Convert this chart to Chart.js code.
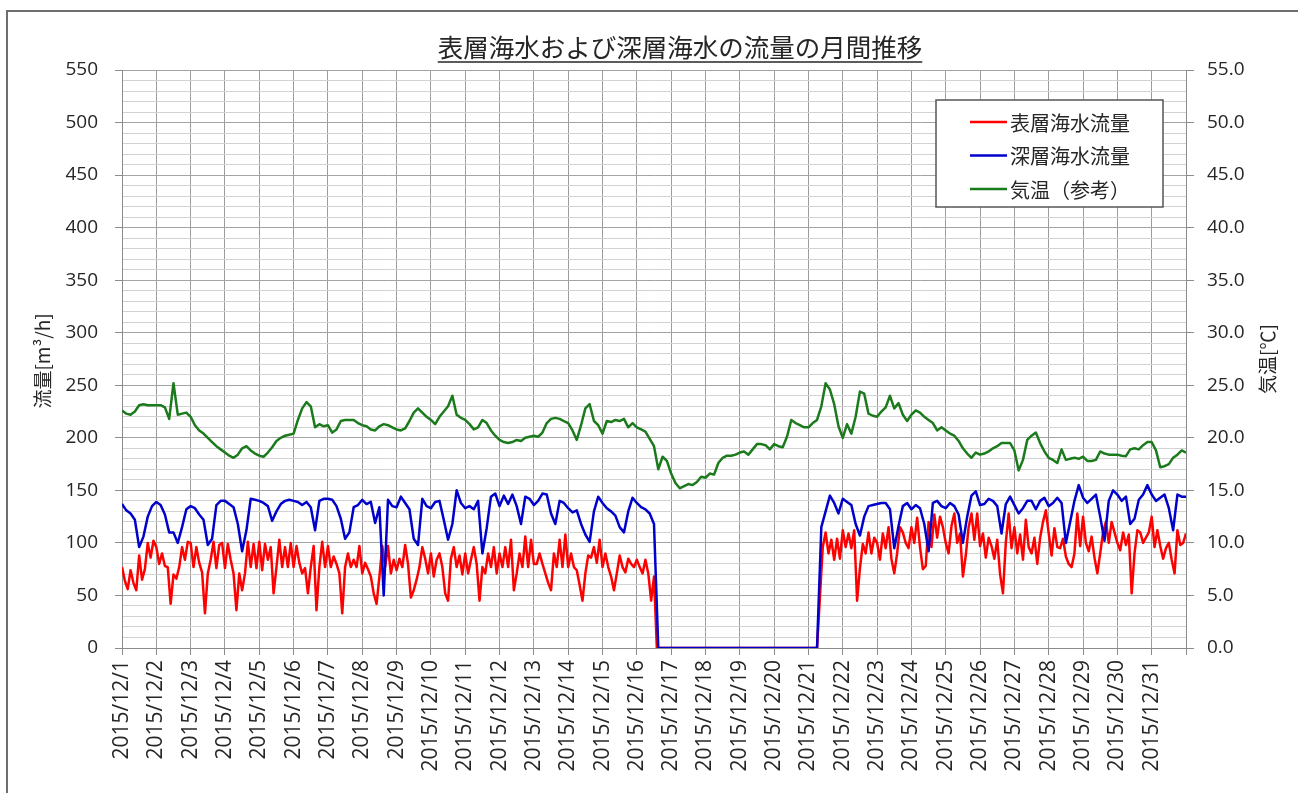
<!DOCTYPE html>
<html>
<head>
<meta charset="utf-8">
<script src="https://cdn.jsdelivr.net/npm/chart.js@4.4.1/dist/chart.umd.min.js"></script>
<style>
  html, body { margin: 0; padding: 0; background: #ffffff; }
  #wrap { width: 1298px; height: 793px; position: relative; }
  canvas { display: block; }
</style>
</head>
<body>
<div id="wrap"><canvas id="flowChart" width="1298" height="793"></canvas></div>
<script>
// Tick labels for each day of December 2015
const dayLabels = [
  '2015/12/1','2015/12/2','2015/12/3','2015/12/4','2015/12/5','2015/12/6','2015/12/7','2015/12/8',
  '2015/12/9','2015/12/10','2015/12/11','2015/12/12','2015/12/13','2015/12/14','2015/12/15','2015/12/16',
  '2015/12/17','2015/12/18','2015/12/19','2015/12/20','2015/12/21','2015/12/22','2015/12/23','2015/12/24',
  '2015/12/25','2015/12/26','2015/12/27','2015/12/28','2015/12/29','2015/12/30','2015/12/31'
];

// Sampling interval (hours) of each series
const surfaceStepHours = 2;
const deepStepHours = 3;
const tempStepHours = 3;

// Surface seawater flow [m3/h], every 2 hours (one row per day)
const surfaceFlow = [
  77, 64, 56, 74, 62, 55, 88, 65, 75, 100, 86, 102,
  96, 80, 90, 78, 77, 42, 70, 66, 77, 96, 84, 101,
  100, 77, 96, 81, 72, 33, 71, 84, 101, 76, 98, 100,
  76, 99, 84, 71, 36, 71, 55, 71, 101, 77, 99, 76,
  101, 74, 99, 84, 96, 52, 77, 103, 77, 96, 77, 100,
  77, 97, 81, 71, 76, 52, 77, 97, 36, 77, 101, 77,
  97, 77, 87, 80, 71, 33, 77, 90, 77, 84, 77, 97,
  71, 81, 75, 68, 52, 42, 68, 97, 77, 97, 71, 84,
  74, 85, 77, 98, 80, 48, 55, 65, 77, 96, 85, 71,
  90, 68, 84, 90, 77, 52, 45, 85, 96, 77, 88, 70,
  90, 71, 84, 96, 80, 45, 77, 71, 90, 77, 96, 71,
  90, 77, 96, 77, 103, 55, 71, 90, 77, 106, 77, 103,
  80, 80, 90, 80, 71, 62, 55, 90, 77, 103, 77, 108,
  77, 90, 77, 74, 60, 45, 71, 88, 86, 96, 81, 103,
  77, 90, 77, 68, 55, 71, 88, 77, 72, 85, 80, 77,
  84, 77, 71, 84, 71, 45, 68, 0, 0, 0, 0, 0,
  0, 0, 0, 0, 0, 0, 0, 0, 0, 0, 0, 0,
  0, 0, 0, 0, 0, 0, 0, 0, 0, 0, 0, 0,
  0, 0, 0, 0, 0, 0, 0, 0, 0, 0, 0, 0,
  0, 0, 0, 0, 0, 0, 0, 0, 0, 0, 0, 0,
  0, 0, 0, 0, 48, 96, 110, 90, 103, 84, 104, 85,
  112, 96, 109, 95, 112, 45, 76, 99, 90, 110, 90, 105,
  100, 84, 109, 95, 115, 85, 71, 90, 115, 110, 100, 95,
  115, 100, 124, 96, 75, 78, 120, 96, 127, 105, 125, 115,
  100, 90, 116, 128, 100, 109, 68, 88, 115, 128, 103, 128,
  97, 109, 86, 105, 97, 85, 103, 70, 52, 100, 128, 95,
  115, 90, 108, 84, 122, 96, 90, 105, 80, 105, 120, 131,
  109, 88, 114, 96, 95, 104, 87, 80, 77, 90, 128, 97,
  125, 100, 92, 106, 86, 71, 90, 110, 120, 100, 120, 110,
  100, 93, 110, 98, 108, 52, 90, 112, 110, 100, 105, 110,
  125, 96, 112, 97, 85, 95, 100, 84, 71, 112, 98, 100,
  109
];

// Deep seawater flow [m3/h], every 3 hours (one row per day)
const deepFlow = [
  137, 131, 128, 122, 96, 106, 125, 135,
  139, 136, 127, 110, 110, 100, 115, 132,
  135, 133, 127, 122, 98, 104, 136, 140,
  140, 137, 134, 118, 92, 112, 142, 141,
  140, 138, 135, 121, 130, 137, 140, 141,
  140, 139, 136, 139, 134, 112, 140, 142,
  142, 141, 135, 123, 104, 110, 134, 136,
  141, 137, 139, 119, 134, 50, 141, 135,
  134, 144, 138, 132, 104, 98, 142, 135,
  133, 139, 140, 122, 103, 118, 150, 138,
  133, 135, 132, 140, 90, 114, 144, 147,
  135, 145, 137, 146, 135, 118, 144, 142,
  136, 140, 147, 146, 128, 118, 140, 138,
  133, 129, 131, 118, 108, 101, 130, 144,
  138, 133, 130, 126, 115, 110, 130, 143,
  138, 134, 132, 128, 118, 0, 0, 0,
  0, 0, 0, 0, 0, 0, 0, 0,
  0, 0, 0, 0, 0, 0, 0, 0,
  0, 0, 0, 0, 0, 0, 0, 0,
  0, 0, 0, 0, 0, 0, 0, 0,
  0, 0, 0, 115, 130, 145, 138, 128,
  142, 139, 136, 118, 107, 125, 135, 136,
  137, 138, 138, 132, 95, 116, 135, 138,
  132, 136, 133, 118, 92, 138, 140, 135,
  133, 138, 135, 127, 100, 125, 145, 149,
  136, 137, 142, 140, 135, 109, 137, 144,
  136, 128, 133, 140, 140, 132, 140, 143,
  135, 138, 143, 138, 100, 120, 140, 155,
  143, 138, 142, 146, 125, 102, 140, 150,
  146, 140, 144, 118, 123, 141, 146, 155,
  146, 140, 143, 146, 133, 112, 146, 144,
  144
];

// Air temperature [deg C], every 3 hours (one row per day)
const airTemp = [
  22.6, 22.3, 22.2, 22.5, 23.1, 23.2, 23.1, 23.1,
  23.1, 23.1, 22.9, 21.8, 25.2, 22.2, 22.3, 22.4,
  22.0, 21.2, 20.7, 20.4, 20.0, 19.6, 19.2, 18.9,
  18.6, 18.3, 18.1, 18.4, 19.0, 19.2, 18.8, 18.5,
  18.3, 18.2, 18.6, 19.1, 19.7, 20.0, 20.2, 20.3,
  20.4, 21.7, 22.8, 23.4, 23.0, 21.0, 21.3, 21.1,
  21.2, 20.5, 20.8, 21.6, 21.7, 21.7, 21.7, 21.4,
  21.2, 21.1, 20.8, 20.7, 21.1, 21.3, 21.2, 21.0,
  20.8, 20.7, 20.9, 21.6, 22.4, 22.8, 22.4, 22.0,
  21.7, 21.3, 22.0, 22.5, 23.0, 24.0, 22.2, 21.9,
  21.7, 21.3, 20.8, 21.0, 21.7, 21.4, 20.7, 20.2,
  19.8, 19.6, 19.5, 19.6, 19.8, 19.7, 20.0, 20.1,
  20.2, 20.1, 20.5, 21.4, 21.8, 21.9, 21.8, 21.6,
  21.4, 20.7, 19.8, 21.2, 22.8, 23.2, 21.6, 21.2,
  20.4, 21.6, 21.5, 21.7, 21.6, 21.8, 21.0, 21.4,
  21.0, 20.8, 20.6, 19.9, 19.2, 17.0, 18.2, 17.8,
  16.6, 15.7, 15.2, 15.4, 15.6, 15.5, 15.8, 16.3,
  16.2, 16.6, 16.5, 17.6, 18.1, 18.3, 18.3, 18.4,
  18.6, 18.7, 18.4, 18.9, 19.4, 19.4, 19.3, 18.9,
  19.4, 19.2, 19.1, 20.1, 21.7, 21.4, 21.2, 21.0,
  21.0, 21.4, 21.7, 23.0, 25.2, 24.6, 23.2, 21.1,
  20.0, 21.3, 20.4, 22.0, 24.4, 24.2, 22.3, 22.1,
  22.0, 22.5, 22.9, 24.0, 22.8, 23.3, 22.2, 21.6,
  22.2, 22.6, 22.4, 22.0, 21.7, 21.4, 20.7, 21.0,
  20.7, 20.4, 20.2, 19.7, 19.0, 18.5, 18.1, 18.6,
  18.4, 18.5, 18.7, 19.0, 19.2, 19.5, 19.5, 19.5,
  18.8, 16.9, 17.9, 19.8, 20.2, 20.5, 19.5, 18.7,
  18.1, 17.9, 17.6, 18.9, 17.9, 18.0, 18.1, 18.0,
  18.2, 17.8, 17.8, 17.9, 18.7, 18.5, 18.4, 18.4,
  18.4, 18.3, 18.25, 18.9, 19.0, 18.9, 19.3, 19.6,
  19.6, 18.8, 17.2, 17.3, 17.5, 18.1, 18.4, 18.8,
  18.6
];

const seriesNames = ['表層海水流量', '深層海水流量', '気温（参考）'];
const seriesColors = ['#ff0000', '#0000cc', '#1b7a1b'];

const toPoints = (values, step) => values.map((v, i) => ({ x: i * step, y: v }));

const numFont = "'Open Sans', 'DejaVu Sans', sans-serif";
const jpFont = "'Noto Sans CJK JP', 'Noto Sans', sans-serif";
const textColor = '#262626';

// Frame, title, axis titles and legend box drawn around the plot
const decorPlugin = {
  id: 'decor',
  beforeDraw(chart) {
    const c = chart.ctx;
    c.save();
    c.fillStyle = '#ffffff';
    c.fillRect(0, 0, chart.width, chart.height);
    c.strokeStyle = '#6e6e6e';
    c.lineWidth = 2;
    c.beginPath();
    c.moveTo(7, chart.height);
    c.lineTo(7, 11);
    c.lineTo(chart.width, 11);
    c.stroke();
    c.restore();
  },
  afterDraw(chart) {
    const c = chart.ctx;
    const area = chart.chartArea;
    c.save();
    // title with underline
    const title = '表層海水および深層海水の流量の月間推移';
    c.font = '25.5px ' + jpFont;
    c.fillStyle = textColor;
    c.textAlign = 'center';
    c.textBaseline = 'alphabetic';
    const tx = 680, ty = 57;
    c.fillText(title, tx, ty);
    const tw = c.measureText(title).width;
    c.strokeStyle = textColor;
    c.lineWidth = 1.5;
    c.beginPath();
    c.moveTo(tx - tw / 2, ty + 5);
    c.lineTo(tx + tw / 2, ty + 5);
    c.stroke();

    // axis titles, both reading bottom to top
    const midY = (area.top + area.bottom) / 2;
    c.font = '19px ' + jpFont;
    c.textBaseline = 'middle';
    c.textAlign = 'center';
    c.save();
    c.translate(43, midY + 2);
    c.rotate(-Math.PI / 2);
    c.fillText('流量[m³/h]', 0, 0);
    c.restore();
    c.save();
    c.translate(1268, midY);
    c.rotate(-Math.PI / 2);
    c.fillText('気温[℃]', 0, 0);
    c.restore();

    // legend
    const bx = 936, by = 100, bw = 227, bh = 107;
    c.fillStyle = '#ffffff';
    c.fillRect(bx, by, bw, bh);
    c.strokeStyle = '#555555';
    c.lineWidth = 1.5;
    c.strokeRect(bx, by, bw, bh);
    c.font = '20px ' + jpFont;
    c.textAlign = 'left';
    c.textBaseline = 'middle';
    const rows = [122, 155.5, 189];
    seriesNames.forEach((name, i) => {
      c.strokeStyle = seriesColors[i];
      c.lineWidth = 2.5;
      c.beginPath();
      c.moveTo(970, rows[i]);
      c.lineTo(1007, rows[i]);
      c.stroke();
      c.fillStyle = textColor;
      c.fillText(name, 1010, rows[i] + 1);
    });
    c.restore();
  }
};

new Chart(document.getElementById('flowChart'), {
  type: 'line',
  data: {
    datasets: [
      {
        label: seriesNames[0],
        data: toPoints(surfaceFlow, surfaceStepHours),
        borderColor: seriesColors[0],
        borderWidth: 2.5,
        yAxisID: 'y',
        order: 2
      },
      {
        label: seriesNames[1],
        data: toPoints(deepFlow, deepStepHours),
        borderColor: seriesColors[1],
        borderWidth: 2.5,
        yAxisID: 'y',
        order: 1
      },
      {
        label: seriesNames[2],
        data: toPoints(airTemp, tempStepHours),
        borderColor: seriesColors[2],
        borderWidth: 2.5,
        yAxisID: 'y2',
        order: 0
      }
    ]
  },
  options: {
    responsive: false,
    devicePixelRatio: 1,
    animation: false,
    events: [],
    layout: { padding: { top: 70, left: 0, right: 0, bottom: 0 } },
    elements: {
      point: { radius: 0 },
      line: { tension: 0, borderJoinStyle: 'round', fill: false }
    },
    plugins: {
      legend: { display: false },
      tooltip: { enabled: false },
      title: { display: false }
    },
    scales: {
      x: {
        type: 'linear',
        min: 0,
        max: 744,
        afterFit(s) { s.height = 145; },
        afterBuildTicks(s) {
          s.ticks = dayLabels.map((_, i) => ({ value: i * 24 })).concat([{ value: 744 }]);
        },
        ticks: {
          autoSkip: false,
          minRotation: 90,
          maxRotation: 90,
          padding: 5,
          color: textColor,
          font: { family: numFont, size: 21 },
          callback: (v) => dayLabels[Math.round(v / 24)] || ''
        },
        grid: { color: '#9c9c9c', lineWidth: 1, tickLength: 7, tickColor: '#8c8c8c' },
        border: { color: '#8c8c8c', width: 1 }
      },
      y: {
        position: 'left',
        min: 0,
        max: 550,
        afterFit(s) { s.width = 122; },
        afterBuildTicks(s) {
          const t = [];
          for (let v = 0; v <= 550; v += 10) t.push({ value: v });
          s.ticks = t;
        },
        ticks: {
          autoSkip: false,
          padding: 17,
          color: textColor,
          font: { family: numFont, size: 19 },
          callback: (v) => (v % 50 === 0 ? String(v) : '')
        },
        grid: {
          color: (ctx) => (ctx.tick && ctx.tick.value % 50 === 0 ? '#a3a3a3' : '#d2d2d2'),
          tickColor: (ctx) => (ctx.tick && ctx.tick.value % 50 === 0 ? '#8c8c8c' : 'rgba(0,0,0,0)'),
          tickLength: 7,
          lineWidth: 1
        },
        border: { color: '#8c8c8c', width: 1 }
      },
      y2: {
        position: 'right',
        min: 0,
        max: 55,
        afterFit(s) { s.width = 112; },
        afterBuildTicks(s) {
          const t = [];
          for (let v = 0; v <= 55; v += 5) t.push({ value: v });
          s.ticks = t;
        },
        ticks: {
          autoSkip: false,
          padding: 13,
          color: textColor,
          font: { family: numFont, size: 19 },
          callback: (v) => Number(v).toFixed(1)
        },
        grid: { drawOnChartArea: false, tickLength: 8, color: '#8c8c8c' },
        border: { color: '#8c8c8c', width: 1 }
      }
    }
  },
  plugins: [decorPlugin]
});
</script>
</body>
</html>
